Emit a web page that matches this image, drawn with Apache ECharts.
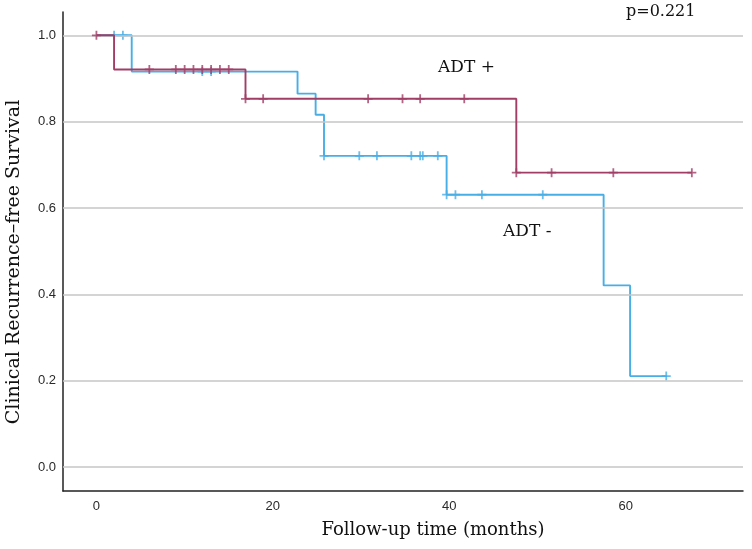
<!DOCTYPE html>
<html>
<head>
<meta charset="utf-8">
<script src="https://cdn.jsdelivr.net/npm/echarts@6/dist/echarts.min.js"></script>
<style>
html,body{margin:0;padding:0;background:#fff;}
#chart{width:752px;height:549px;}
</style>
</head>
<body>
<div id="chart"></div>
<script>
// Kaplan-Meier step data
var adtPlusTimes = [0, 2, 16.9, 47.6, 67.5];
var adtPlusSurv = [1.0, 0.921, 0.853, 0.682, 0.682];
var adtPlusCensor = [0, 6, 9, 10, 11, 12, 13, 14, 15, 16.9, 18.9, 30.8, 34.7, 36.7, 41.7, 47.6, 51.6, 58.6, 67.5];

var adtMinusTimes = [0, 4, 22.8, 24.85, 25.8, 39.7, 57.5, 60.5, 64.7];
var adtMinusSurv = [1.0, 0.916, 0.865, 0.816, 0.721, 0.631, 0.421, 0.211, 0.211];
var adtMinusCensor = [2.0, 3.0, 12, 13, 25.8, 29.8, 31.8, 35.7, 36.7, 37.0, 38.7, 39.7, 40.7, 43.7, 50.6, 64.6];

var xTicks = [0, 20, 40, 60];
var yTicks = [0, 0.2, 0.4, 0.6, 0.8, 1.0];

var labelPlus = 'ADT +';
var labelMinus = 'ADT -';
var pText = 'p=0.221';
var xName = 'Follow-up time (months)';
var yName = 'Clinical Recurrence\u2013free Survival';

function pairs(ts, ss) { return ts.map(function (t, i) { return [t, ss[i]]; }); }
function survAt(ts, ss, t) {
  var v = ss[0];
  for (var i = 0; i < ts.length; i++) { if (ts[i] <= t + 1e-9) v = ss[i]; }
  return v;
}
function censorPts(cs, ts, ss) { return cs.map(function (t) { return [t, survAt(ts, ss, t)]; }); }

var colPlus = '#A03E66';
var colMinus = '#48AEE6';
var plusSym = 'path://M0.8,0H1.2V0.8H2V1.2H1.2V2H0.8V1.2H0V0.8H0.8Z';

var chart = echarts.init(document.getElementById('chart'), null, {renderer: 'canvas'});
chart.setOption({
  animation: false,
  backgroundColor: '#fff',
  grid: {left: 63, right: 9, top: 12, bottom: 58, containLabel: false},
  xAxis: {
    type: 'value', min: -3.79, max: 73.3,
    axisLine: {show: true, onZero: false, lineStyle: {color: '#222', width: 1.5}},
    axisTick: {show: false},
    splitLine: {show: false},
    axisLabel: {customValues: xTicks, margin: 9, color: '#2a2a2a', fontFamily: 'Liberation Sans', fontSize: 13}
  },
  yAxis: {
    type: 'value', min: -0.055, max: 1.054,
    axisLine: {show: true, onZero: false, lineStyle: {color: '#222', width: 1.5}},
    axisTick: {show: false},
    splitLine: {show: false},
    axisLabel: {customValues: yTicks, margin: 7, color: '#2a2a2a', fontFamily: 'Liberation Sans', fontSize: 13,
      formatter: function (v) { return v.toFixed(1); }}
  },
  series: [
    {
      type: 'line', data: [], z: 1, silent: true,
      markLine: {
        silent: true, symbol: 'none', animation: false,
        label: {show: false},
        lineStyle: {color: '#c6c6c6', width: 1.5, type: 'solid'},
        data: yTicks.map(function (v) { return {yAxis: v}; })
      }
    },
    {
      type: 'line', step: 'end', z: 3, symbol: 'none',
      data: pairs(adtMinusTimes, adtMinusSurv),
      lineStyle: {color: colMinus, width: 1.9}
    },
    {
      type: 'scatter', z: 4, symbol: plusSym, symbolSize: 9,
      data: censorPts(adtMinusCensor, adtMinusTimes, adtMinusSurv),
      itemStyle: {color: colMinus}
    },
    {
      type: 'line', step: 'end', z: 5, symbol: 'none',
      data: pairs(adtPlusTimes, adtPlusSurv),
      lineStyle: {color: colPlus, width: 1.9}
    },
    {
      type: 'scatter', z: 6, symbol: plusSym, symbolSize: 9,
      data: censorPts(adtPlusCensor, adtPlusTimes, adtPlusSurv),
      itemStyle: {color: colPlus}
    }
  ],
  graphic: [
    {type: 'text', x: 433, y: 530, style: {text: xName, fill: '#111', font: '18px "DejaVu Serif"', align: 'center', verticalAlign: 'middle'}},
    {type: 'text', x: 14, y: 262, rotation: Math.PI / 2, style: {text: yName, fill: '#111', font: '19px "DejaVu Serif"', align: 'center', verticalAlign: 'middle'}},
    {type: 'text', x: 438, y: 68, style: {text: labelPlus, fill: '#111', font: '17px "DejaVu Serif"', align: 'left', verticalAlign: 'middle'}},
    {type: 'text', x: 503, y: 232, style: {text: labelMinus, fill: '#111', font: '17px "DejaVu Serif"', align: 'left', verticalAlign: 'middle'}},
    {type: 'text', x: 626, y: 12, style: {text: pText, fill: '#111', font: '16px "DejaVu Serif"', align: 'left', verticalAlign: 'middle'}}
  ]
});
</script>
</body>
</html>
